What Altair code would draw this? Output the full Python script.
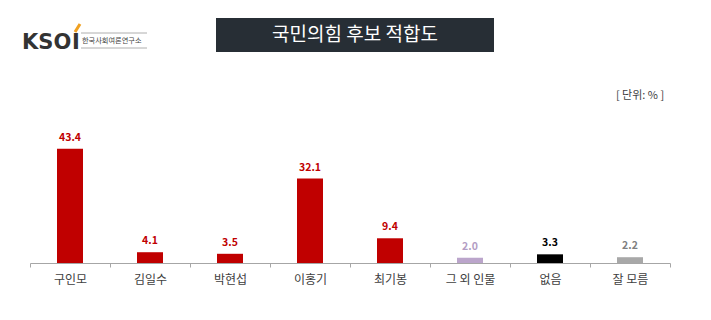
import altair as alt
import pandas as pd

categories = ["구인모", "김일수", "박현섭", "이홍기", "최기봉", "그 외 인물", "없음", "잘 모름"]
values = [43.4, 4.1, 3.5, 32.1, 9.4, 2.0, 3.3, 2.2]
bar_colors = ["#c00000"] * 5 + ["#bba5cb", "#000000", "#a8a8a8"]
label_colors = ["#c00000"] * 5 + ["#b39dc4", "#000000", "#7f7f7f"]

title_text = "국민의힘 후보 적합도"
unit_text = "[ 단위: % ]"
org_text = "한국사회여론연구소"

FONT = "Noto Sans CJK KR"
OX = 30  # plot-area left offset

df = pd.DataFrame({"cat": categories, "val": values, "bar": bar_colors, "lab": label_colors})

x_enc = alt.X(
    "cat:N",
    sort=categories,
    scale=alt.Scale(paddingInner=0, paddingOuter=0),
    axis=alt.Axis(
        title=None, labelAngle=0, tickBand="extent",
        domainColor="#a6a6a6", tickColor="#a6a6a6", tickSize=4,
        labelFontSize=12, labelColor="#404040", labelPadding=7, labelFont=FONT,
    ),
)
y_enc = alt.Y("val:Q", scale=alt.Scale(domain=[0, 100]), axis=None)

base = alt.Chart(df)
bars = base.mark_bar(size=26).encode(x=x_enc, y=y_enc, color=alt.Color("bar:N", scale=None))
labels = base.mark_text(baseline="bottom", dy=-6, fontSize=10.5, fontWeight="bold", font=FONT).encode(
    x=alt.X("cat:N", sort=categories), y=y_enc,
    text=alt.Text("val:Q", format=".1f"),
    color=alt.Color("lab:N", scale=None),
)

one = pd.DataFrame({"t": [title_text]})
title_box = alt.Chart(one).mark_rect(color="#272e35").encode(
    x=alt.value(216 - OX), x2=alt.value(494 - OX), y=alt.value(18), y2=alt.value(52)
)
title = alt.Chart(one).mark_text(color="white", fontSize=19, font=FONT, baseline="middle", align="center").encode(
    x=alt.value(355 - OX), y=alt.value(35), text="t:N"
)
unit = alt.Chart(pd.DataFrame({"t": [unit_text]})).mark_text(
    color="#404040", fontSize=11, font=FONT, baseline="middle", align="center"
).encode(x=alt.value(640 - OX), y=alt.value(96), text="t:N")

logo1 = alt.Chart(pd.DataFrame({"t": ["KSO"]})).mark_text(
    color="#333333", fontSize=21, font="DejaVu Sans", fontWeight="bold", align="left", baseline="alphabetic"
).encode(x=alt.value(22 - OX), y=alt.value(49), text="t:N")
logo2 = alt.Chart(pd.DataFrame({"t": ["I"]})).mark_text(
    color="#333333", fontSize=21, font="DejaVu Sans", fontWeight="bold", align="left", baseline="alphabetic"
).encode(x=alt.value(72 - OX), y=alt.value(49), text="t:N")
dot = alt.Chart(one).mark_rule(color="#f0a020", strokeWidth=3).encode(
    x=alt.value(75 - OX), x2=alt.value(80 - OX), y=alt.value(32), y2=alt.value(24)
)
line_top = alt.Chart(one).mark_rule(color="#9a9a9a", strokeWidth=0.8).encode(
    x=alt.value(81 - OX), x2=alt.value(147 - OX), y=alt.value(33)
)
line_bot = alt.Chart(one).mark_rule(color="#9a9a9a", strokeWidth=0.8).encode(
    x=alt.value(81 - OX), x2=alt.value(147 - OX), y=alt.value(48)
)
org = alt.Chart(pd.DataFrame({"t": [org_text]})).mark_text(
    color="#444444", fontSize=7.2, font=FONT, align="left", baseline="middle"
).encode(x=alt.value(82 - OX), y=alt.value(41), text="t:N")

chart = alt.layer(
    bars, labels, title_box, title, unit, logo1, logo2, dot, line_top, line_bot, org
).properties(
    width=640, height=263,
    autosize=alt.AutoSizeParams(type="none"),
    padding={"left": OX, "top": 0, "right": 41, "bottom": 57},
    background="white",
).configure_view(stroke=None)

chart.save("out.html", embed_options={"renderer": "svg", "actions": False})
